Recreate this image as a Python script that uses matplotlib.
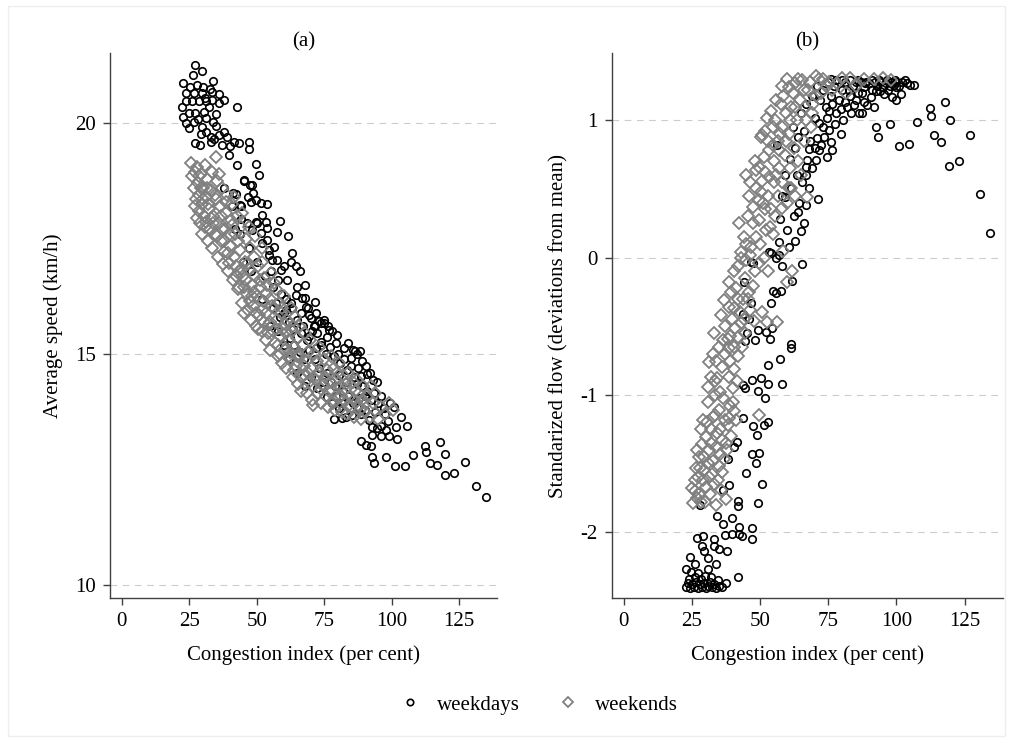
import matplotlib
matplotlib.use("Agg")
import matplotlib.pyplot as plt
from matplotlib.lines import Line2D
from matplotlib.patches import Rectangle

# ---------------- data ----------------
x_ticks = [0, 25, 50, 75, 100, 125]
x_ticklabels = ["0", "25", "50", "75", "100", "125"]
speed_ticks = [10, 15, 20]
speed_ticklabels = ["10", "15", "20"]
flow_ticks = [-2, -1, 0, 1]
flow_ticklabels = ["-2", "-1", "0", "1"]

# panel (a): (congestion index, average speed)
speed_weekdays = [
    (27.0,21.26),(29.6,21.14),(26.3,21.05),(33.9,20.91),(22.8,20.88),(25.3,20.79),(28.0,20.83),(30.2,20.78),
    (32.7,20.74),(23.7,20.66),(26.8,20.66),(29.9,20.65),(33.6,20.68),(36.0,20.63),(23.7,20.49),(26.1,20.49),
    (28.6,20.48),(31.1,20.49),(33.6,20.50),(37.9,20.50),(22.5,20.36),(36.0,20.43),(42.6,20.34),(22.8,20.14),
    (24.9,20.22),(27.1,20.22),(30.5,20.25),(31.1,20.11),(26.8,20.03),(33.8,20.03),(24.9,19.89),(29.9,19.91),
    (31.1,19.82),(33.0,19.70),(29.3,19.77),(37.9,19.82),(36.0,19.75),(34.3,19.65),(27.2,19.57),(29.0,19.53),
    (33.2,19.59),(37.3,19.52),(40.1,19.50),(43.4,19.57),(47.1,19.59),(47.1,19.44),(39.7,19.31),(42.6,19.10),
    (49.6,19.12),(51.0,18.88),(45.3,18.77),(47.5,18.66),(48.8,18.48),(46.8,18.41),(41.4,18.48),(43.8,18.22),
    (49.6,18.34),(51.5,18.27),(53.7,18.25),(52.1,18.01),(46.5,17.83),(50.3,17.83),(53.3,17.87),(58.6,17.89),
    (57.6,17.65),(61.6,17.55),(54.0,17.73),(44.1,17.92),(45.3,18.74),(48.4,18.66),(42.2,18.47),(47.8,18.30),
    (44.1,18.21),(49.6,17.87),(48.4,17.69),(51.5,17.62),(54.0,17.47),(54.6,17.26),(56.4,17.33),(52.1,17.40),
    (54.6,17.15),(57.6,17.04),(55.8,17.04),(62.6,17.00),(58.9,16.82),(61.1,16.61),(66.0,16.79),(65.0,16.46),
    (64.4,16.28),(67.8,16.21),(71.5,16.12),(62.6,16.10),(60.7,15.96),(69.4,15.85),(73.7,15.67),(71.5,15.62),
    (66.3,15.45),(69.4,15.40),(66.9,16.21),(68.1,16.03),(66.3,15.89),(70.0,15.78),(73.1,15.71),(74.9,15.67),
    (71.2,15.60),(76.8,15.53),(79.9,15.42),(76.2,15.38),(73.7,15.27),(71.9,15.13),(79.3,15.24),(82.3,15.13),
    (86.3,15.06),(88.3,15.06),(84.8,14.91),(87.5,14.70),(90.7,14.57),(94.7,14.39),(88.5,14.52),(72.2,14.26),
    (76.2,14.08),(78.0,13.94),(81.7,13.94),(80.5,13.83),(85.4,13.69),(83.0,13.65),(78.6,13.59),(81.7,13.61),
    (88.5,13.70),(91.6,13.58),(97.2,13.83),(100.9,13.85),(103.6,13.65),(101.5,13.43),(105.8,13.45),(92.8,13.43),
    (94.7,13.40),(92.8,13.25),(95.9,13.22),(99.0,13.22),(102.1,13.16),(88.5,13.11),(90.4,13.04),(92.2,13.02),
    (92.8,12.78),(93.4,12.64),(97.8,12.78),(101.2,12.57),(104.8,12.58),(108.0,12.82),(112.3,13.02),(112.9,12.89),
    (117.9,13.10),(119.7,12.84),(114.2,12.65),(116.7,12.59),(119.6,12.39),(123.1,12.42),(127.0,12.66),(131.1,12.15),
    (134.8,11.90),
    (60.0,15.90),(62.0,15.70),(63.5,15.55),(65.0,15.75),(67.0,15.60),(68.5,15.30),(70.5,15.50),(72.5,15.45),
    (74.0,15.20),(75.5,15.00),(77.0,15.15),(78.5,14.95),(80.0,15.00),(81.0,14.80),(82.5,14.90),(83.5,14.65),
    (85.0,14.75),(86.0,14.50),(87.0,14.35),(89.0,14.30),(90.0,14.10),(91.0,14.20),(92.5,14.00),(93.5,14.15),
    (95.0,13.95),(96.0,14.10),(97.5,13.70),(98.5,13.55),(99.5,13.95),(76.0,14.60),(77.5,14.40),(79.0,14.30),
    (80.5,14.55),(82.0,14.20),(84.0,14.10),(85.5,13.95),(87.0,13.85),(74.5,14.40),(73.0,14.70),(71.5,14.90),
    (69.5,15.10),(67.5,14.90),(79.5,14.10),(83.0,14.40),(88.0,14.05),(90.0,13.80),(94.0,13.75),(96.0,13.45),
    (98.0,13.35),(64.0,15.20),(66.0,15.05),(62.5,15.35),(58.5,15.80),(57.0,16.10),(59.0,16.30),(61.0,16.20),
    (63.0,16.00),(56.0,16.45),(58.0,16.60),(60.0,16.90),(63.0,17.20),(55.5,16.80),(64.5,16.90),(68.0,16.50),
    (69.0,16.00),(72.0,15.90),(75.0,15.75),(76.5,15.60),(78.0,15.50),(84.0,15.25),(85.5,15.10),(87.0,15.00),
    (89.0,14.85),(90.5,14.75),(92.0,14.60),(93.0,14.45),
    (38.0,18.60),(41.0,18.20),(44.0,17.60),(47.0,17.30),(50.0,17.00),(53.0,16.70),(56.0,16.00),(55.0,15.60),
    (58.0,15.50),(60.0,15.20),(52.0,16.20),(48.0,16.80),(45.0,17.00),(42.0,17.70),(62.0,14.90),(65.0,14.60),
    (68.0,14.30),(70.0,14.50),
    (30.8,20.55),(32.4,20.35),(35.0,20.20),(28.3,20.10),(24.0,20.00),(34.8,19.95),(39.0,19.70),(41.5,19.60),
]

speed_weekends = [
    (25.6,19.13),(26.2,18.85),(26.8,18.60),(27.0,18.95),(27.5,18.35),(27.9,19.05),(28.2,18.70),(28.5,18.10),
    (28.8,18.45),(29.0,17.85),(29.3,18.90),(29.6,18.25),(29.9,17.60),(30.2,18.60),(30.5,18.00),(30.8,19.10),
    (31.1,17.87),(31.3,18.40),(31.7,18.80),(32.0,17.45),(32.3,18.15),(32.6,17.70),(33.0,18.55),(33.3,18.95),
    (33.6,17.30),(34.0,18.00),(34.4,17.60),(34.8,19.26),(35.0,18.35),(35.3,18.75),(35.7,17.10),(36.0,17.85),
    (36.4,18.20),(36.8,17.45),(37.2,18.60),(37.6,16.95),(37.9,17.22),(38.3,17.70),(38.7,18.05),(39.0,18.45),
    (39.4,16.80),(39.7,16.97),(40.1,17.35),(40.5,17.90),(40.9,18.25),(41.2,16.60),(41.6,17.10),(42.0,17.60),
    (42.4,16.90),(42.8,18.00),(43.1,16.40),(43.4,16.46),(43.8,17.25),(44.2,17.75),(44.6,16.10),(45.0,16.70),
    (45.3,15.89),(45.7,17.00),(46.0,17.50),(46.4,16.30),(46.8,15.95),(47.2,16.85),(47.6,17.30),(48.0,15.75),
    (48.3,16.50),(48.7,16.05),(49.1,17.10),(49.5,16.70),(49.9,15.60),(50.2,16.25),(50.6,16.90),(51.0,15.85),
    (51.4,16.45),(51.8,17.00),(52.1,15.50),(52.5,16.15),(52.9,16.65),(53.3,15.30),(53.6,15.90),(54.0,16.50),
    (54.4,15.65),(54.8,16.20),(55.1,15.10),(55.5,16.75),(55.9,15.50),(56.3,16.00),(56.7,15.25),(57.1,16.40),
    (57.5,15.75),(57.9,14.95),(58.2,16.10),(58.6,15.40),(59.0,15.90),(59.4,14.80),(59.8,15.55),(60.2,16.25),
    (60.6,15.10),(61.0,14.70),(61.4,15.75),(61.8,15.30),(62.2,14.90),(62.6,16.00),(63.0,15.50),(63.4,14.50),
    (63.8,15.15),(64.2,15.80),(64.6,14.75),(65.0,15.35),(65.4,14.35),(65.8,15.60),(66.2,14.95),(66.6,14.20),
    (67.0,15.20),(67.4,14.55),(67.8,15.45),(68.2,14.85),(68.6,14.15),(69.0,15.05),(69.4,14.40),(69.8,15.30),
    (70.2,14.70),(70.6,14.00),(71.0,13.90),(71.4,15.00),(71.8,14.45),(72.2,14.85),(72.6,14.15),(73.0,15.15),
    (73.5,14.60),(74.0,13.95),(74.5,14.35),(75.0,14.90),(75.5,14.10),(76.0,14.65),(76.5,13.85),(77.0,14.40),
    (77.5,14.95),(78.0,14.20),(78.5,14.70),(79.0,13.80),(79.5,14.45),(80.0,14.05),(80.5,14.80),(81.0,14.30),
    (81.5,13.75),(82.0,14.55),(82.5,14.00),(83.0,14.35),(83.5,13.70),(84.0,14.60),(84.5,14.10),(85.0,13.85),
    (85.5,14.40),(86.0,13.65),(86.5,14.20),(87.0,14.45),(87.5,13.90),(88.0,14.15),(88.5,13.60),(89.0,14.00),
    (89.5,14.30),(90.0,13.75),(91.0,14.10),(92.0,13.65),(93.0,13.95),(94.0,14.15),(95.0,13.60),(96.0,13.85),
    (97.5,13.70),(100.4,13.80),(99.0,13.95),
    (28.5,18.85),(30.0,18.35),(31.5,18.60),(33.0,17.95),(34.5,18.45),(36.0,18.90),(37.0,17.70),(38.5,18.30),
    (40.0,17.60),(41.5,18.40),(43.0,17.45),(44.5,16.85),(46.0,16.60),(47.5,16.15),(49.0,16.35),(50.5,15.55),
    (52.0,15.95),(53.5,16.30),(55.0,15.70),(56.5,16.55),(58.0,15.20),(59.5,16.00),(61.0,15.45),(62.5,15.05),
    (64.0,14.65),(65.5,15.00),(44.5,18.05),(47.0,17.75),(49.5,17.55),(52.0,17.30),
    (27.2,18.20),(28.0,17.95),(29.5,18.60),(30.8,17.75),(32.0,18.25),(33.8,17.85),(35.5,17.55),(36.8,18.00),
    (38.0,17.45),(39.5,17.20),(41.0,17.80),(42.2,16.70),(43.6,16.80),(45.2,16.45),(46.6,16.95),(48.2,16.25),
    (49.6,15.90),(51.2,16.60),(52.7,15.70),(54.2,15.45),(55.7,16.05),(57.2,15.55),(58.8,15.00),(60.4,15.65),
    (61.9,14.95),(63.3,15.60),(64.8,14.95),(66.3,14.50),(67.7,14.75),(69.2,14.60),(70.8,14.30),(72.3,14.55),
    (73.8,14.25),(75.3,14.50),(76.8,14.20),(78.3,13.95),(79.8,14.60),(81.3,14.10),(82.8,14.25),(84.3,13.90),
    (86.2,14.00),(88.2,13.80),(90.5,13.95),(92.5,14.30),
]

# panel (b): (congestion index, standardized flow)
flow_weekdays = [
    (22.7,-2.40),(23.5,-2.37),(24.2,-2.41),(25.0,-2.38),(25.8,-2.40),(26.5,-2.36),(27.2,-2.41),(28.0,-2.38),
    (28.8,-2.40),(29.5,-2.37),(30.3,-2.41),(31.0,-2.39),(31.8,-2.36),(32.5,-2.40),(33.3,-2.38),(34.0,-2.41),
    (35.0,-2.39),(36.2,-2.40),(37.6,-2.37),(24.0,-2.34),(26.0,-2.33),(28.5,-2.34),(30.0,-2.32),(32.0,-2.33),
    (34.5,-2.35),(42.0,-2.33),(22.7,-2.27),(24.7,-2.29),(27.2,-2.30),(30.8,-2.27),(33.9,-2.23),(26.3,-2.23),
    (24.5,-2.18),(30.8,-2.19),(29.6,-2.14),(28.8,-2.10),(33.3,-2.10),(35.1,-2.12),(37.8,-2.14),(26.8,-2.04),
    (29.0,-2.03),(33.0,-2.05),(37.3,-2.02),(39.7,-2.01),(42.4,-2.01),(43.4,-2.03),(47.0,-2.05),(47.0,-1.97),
    (42.4,-1.96),(39.7,-1.90),(36.5,-1.94),(34.2,-1.88),(42.1,-1.77),(42.1,-1.81),(49.1,-1.79),(36.3,-1.69),
    (38.5,-1.66),(28.0,-1.80),(50.7,-1.65),(44.8,-1.57),(48.5,-1.50),(47.0,-1.43),(49.5,-1.42),(38.1,-1.47),
    (41.4,-1.34),(40.6,-1.38),(48.9,-1.29),(47.5,-1.23),(51.3,-1.22),(53.1,-1.20),(43.6,-1.17),(51.9,-1.02),
    (49.1,-0.97),(50.3,-0.88),(47.0,-0.89),(44.6,-0.95),(43.8,-0.93),(53.1,-0.92),(58.2,-0.92),(53.0,-0.78),
    (57.4,-0.74),(61.3,-0.63),(61.4,-0.66),(53.7,-0.59),(52.2,-0.54),(48.2,-0.60),(45.2,-0.55),(44.6,-0.61),
    (54.3,-0.51),(49.1,-0.53),(45.8,-0.45),(43.6,-0.41),(46.7,-0.33),(54.2,-0.33),(54.6,-0.24),(57.6,-0.24),
    (56.0,-0.26),(44.2,-0.18),(61.9,-0.17),(65.5,-0.05),(58.2,-0.06),(55.8,0.00),(57.0,0.02),(54.0,0.03),
    (47.3,-0.04),(46.7,-0.03),(53.4,0.04),(57.0,0.11),(60.7,0.08),(64.9,0.19),(57.3,0.28),(64.1,0.33),
    (67.0,0.38),(64.3,0.40),(71.3,0.43),(58.0,0.45),(59.2,0.44),(61.3,0.51),(68.0,0.51),(63.7,0.60),
    (67.0,0.60),(66.8,0.66),(67.4,0.71),(70.4,0.71),(74.7,0.73),(71.6,0.78),(68.0,0.79),(75.9,0.84),
    (71.0,0.87),(79.6,0.90),(75.3,0.93),(71.6,0.98),(75.3,1.07),(56.4,0.82),
    (65.0,1.05),(67.0,1.12),(69.0,1.18),(70.0,1.02),(72.0,1.15),(73.0,1.22),(74.0,1.10),(76.0,1.18),
    (77.0,1.25),(78.0,1.05),(79.0,1.15),(80.0,1.22),(81.0,1.28),(82.0,1.10),(83.0,1.18),(84.0,1.25),
    (85.0,1.28),(86.0,1.20),(87.0,1.28),(88.0,1.24),(89.0,1.28),(90.0,1.27),(91.0,1.22),(92.0,1.28),
    (93.0,1.25),(94.0,1.28),(95.0,1.24),(96.0,1.27),(97.0,1.22),(98.0,1.28),(99.0,1.26),(100.0,1.28),
    (101.0,1.25),(102.0,1.28),(103.3,1.29),(105.0,1.26),(106.5,1.26),(99.7,1.24),(101.5,1.19),(99.7,1.15),
    (98.2,1.17),(95.4,1.19),(92.4,1.21),(88.1,1.13),(91.7,1.10),(89.3,1.11),(86.3,1.05),(84.4,1.11),
    (85.0,1.15),(87.5,1.05),(80.5,1.00),(77.5,0.97),(73.0,0.95),(117.7,1.13),(112.2,1.09),(112.7,1.03),
    (119.6,1.00),(107.7,0.99),(97.6,0.97),(92.5,0.95),(93.1,0.88),(113.9,0.89),(116.3,0.84),(126.8,0.89),
    (101.0,0.81),(104.6,0.83),(119.3,0.67),(123.1,0.70),(130.7,0.46),(134.4,0.18),(75.0,1.28),(78.0,1.29),
    (71.0,1.25),(62.0,0.95),(64.0,0.88),(66.0,0.92),(68.5,0.85),(70.0,0.80),(72.5,0.82),(73.5,0.88),
    (76.5,0.78),(69.0,0.65),(65.5,0.55),(62.5,0.30),(60.0,0.20),(66.0,0.25),(63.0,0.12),(59.0,0.60),
    (61.0,0.72),(63.0,0.80),
    (76.0,1.30),(80.0,1.29),(83.0,1.29),(86.0,1.29),(88.5,1.27),(91.0,1.29),(93.5,1.29),(96.5,1.29),
    (99.5,1.29),(104.0,1.27),(82.5,1.22),(87.5,1.20),(90.5,1.17),(94.0,1.21),(97.5,1.25),(79.5,1.08),
    (81.0,1.13),(83.5,1.05),(76.5,1.12),(74.5,1.02),
]

flow_weekends = [
    (25.6,-1.79),(26.2,-1.70),(26.6,-1.53),(27.3,-1.60),(27.8,-1.72),(28.0,-1.53),(28.6,-1.36),(29.0,-1.62),
    (29.6,-1.45),(30.2,-1.67),(30.2,-1.31),(30.8,-1.50),(31.4,-1.40),(31.9,-1.25),(32.4,-1.58),(33.3,-1.65),
    (33.9,-1.80),(33.9,-1.38),(34.3,-1.28),(34.8,-1.52),(35.7,-1.69),(35.3,-1.43),(36.2,-1.33),(36.7,-1.47),
    (37.5,-1.76),(37.5,-1.35),(38.2,-1.22),(38.7,-1.17),(39.4,-1.30),(40.0,-1.05),(40.5,-1.12),(41.2,-1.18),
    (29.0,-1.18),(32.6,-1.16),(35.1,-1.11),(31.0,-1.05),(33.5,-1.00),(36.5,-1.02),(27.5,-1.45),(26.0,-1.62),
    (28.5,-1.78),(31.5,-1.72),
    (30.8,-0.94),(32.0,-0.87),(33.5,-0.90),(35.3,-0.98),(38.7,-0.87),(40.6,-0.81),(41.5,-0.90),(31.4,-0.76),
    (32.6,-0.70),(35.1,-0.65),(38.1,-0.59),(39.0,-0.57),(33.3,-0.55),(38.7,-0.66),(40.6,-0.65),(42.0,-0.72),
    (40.9,-0.51),(43.0,-0.48),(44.5,-0.55),(43.5,-0.65),(35.7,-0.42),(38.7,-0.36),(36.9,-0.31),(40.6,-0.37),
    (42.5,-0.40),(44.0,-0.45),(47.9,-0.46),(50.9,-0.40),(52.7,-0.47),(56.4,-0.47),(36.0,-0.80),(34.0,-0.75),
    (37.0,-0.50),(39.5,-0.25),(42.0,-0.30),(45.5,-0.30),(49.7,-1.15),
    (47.3,-0.21),(44.5,-0.15),(46.0,-0.25),(38.7,-0.18),(40.6,-0.10),(41.8,-0.06),(43.0,0.00),(44.8,-0.02),
    (46.5,0.02),(49.7,-0.04),(48.0,-0.10),(61.9,-0.10),(60.0,-0.18),(42.4,0.25),(43.0,0.04),(46.7,0.08),
    (48.5,0.15),(52.2,0.20),(53.5,0.22),(49.7,0.27),(47.3,0.37),(49.7,0.42),(51.0,0.40),(48.5,0.51),
    (50.9,0.56),(53.4,0.59),(55.0,0.55),(44.8,0.60),(54.6,0.17),(58.0,0.36),(61.3,0.51),(45.5,0.30),
    (44.0,0.15),(46.0,0.45),(52.0,0.35),(55.5,0.30),(56.5,0.45),(50.0,0.10),(51.5,0.00),(53.0,-0.10),
    (58.5,0.05),(57.0,0.65),(59.0,0.75),(46.5,0.55),(48.0,0.70),
    (49.7,0.66),(51.5,0.73),(53.4,0.78),(50.3,0.88),(52.0,0.92),(54.6,0.95),(54.0,1.07),(55.5,1.00),
    (57.6,1.12),(60.7,1.24),(62.0,1.20),(58.5,1.18),(56.5,0.85),(58.0,0.95),(59.5,1.05),(60.5,0.90),
    (61.5,1.10),(63.0,1.27),(63.5,1.00),(64.5,1.15),(65.5,1.29),(66.5,1.10),(67.5,1.22),(68.6,0.95),
    (68.5,1.28),(70.4,1.32),(69.5,1.12),(71.5,1.30),(55.0,0.70),(53.0,0.85),(57.0,0.78),(48.5,0.64),
    (50.9,0.89),(52.5,1.02),(56.0,1.15),(58.0,1.25),(60.0,1.30),(62.5,0.80),(64.0,0.70),(67.4,0.44),
    (65.0,0.60),(60.7,0.51),(63.0,0.45),(66.0,0.85),(61.0,0.65),
    (75.3,1.28),(78.3,1.27),(83.0,1.31),(85.0,1.25),(88.0,1.30),(91.7,1.30),(95.0,1.31),(98.0,1.29),
    (73.0,1.30),(80.0,1.31),(76.5,1.22),(81.5,1.20),
    (25.0,-1.68),(26.8,-1.75),(27.0,-1.40),(28.2,-1.25),(29.3,-1.55),(30.0,-1.78),(30.5,-1.20),(31.2,-1.60),
    (32.0,-1.35),(32.8,-1.48),(33.6,-1.15),(34.5,-1.62),(35.5,-1.25),(36.0,-1.56),(37.0,-1.18),(38.0,-1.40),
    (39.0,-1.08),(40.2,-0.95),(39.0,-0.75),(37.2,-0.70),(34.2,-0.88),(36.5,-0.60),(41.8,-0.58),(43.8,-0.30),
    (46.2,-0.38),(39.8,-0.45),(41.2,-0.22),(45.0,0.10),(47.5,0.25),(50.5,0.48),(52.8,0.45),(54.2,0.35),
    (56.0,0.60),(58.2,0.55),(60.0,0.40),(51.8,0.62),(54.8,0.82),(57.5,0.90),(59.5,0.85),(61.0,1.00),
    (62.8,1.10),(66.0,1.22),(64.0,1.30),(67.0,1.00),(69.0,1.05),(70.5,1.18),(72.5,1.20),(74.5,1.25),
]

title_a = "(a)"
title_b = "(b)"
xlabel = "Congestion index (per cent)"
ylabel_a = "Average speed (km/h)"
ylabel_b = "Standarized flow (deviations from mean)"
legend_labels = ["weekdays", "weekends"]

# ---------------- styling ----------------
plt.rcParams['font.family'] = ['Liberation Serif', 'DejaVu Serif']
FS = 15
GRAY = '#808080'
SPINE = '#404040'
CIRC_MS = 5.4
DIAM_MS = 6.2

fig = plt.figure(figsize=(10.13, 7.42), dpi=100)
fig.patch.set_facecolor('white')
fig.patches.append(Rectangle((0.008, 0.008), 0.984, 0.984, transform=fig.transFigure,
                             fill=False, edgecolor='#eeeeee', lw=1.0))

ax_a = fig.add_axes([0.1086, 0.194, 0.382, 0.7346])
ax_b = fig.add_axes([0.604, 0.194, 0.386, 0.7346])


def draw(ax, wd, we, yt, ytl, ylim, title, ylabel):
    xs, ys = zip(*wd)
    ax.plot(xs, ys, linestyle='none', marker='o', markersize=CIRC_MS, markerfacecolor='none',
            markeredgecolor='black', markeredgewidth=1.2, zorder=3)
    xs, ys = zip(*we)
    ax.plot(xs, ys, linestyle='none', marker='D', markersize=DIAM_MS, markerfacecolor='none',
            markeredgecolor=GRAY, markeredgewidth=1.3, zorder=4)
    ax.set_xlim(-4.3, 139)
    ax.set_ylim(*ylim)
    ax.set_xticks(x_ticks)
    ax.set_xticklabels(x_ticklabels)
    ax.set_yticks(yt)
    ax.set_yticklabels(ytl)
    for v in yt:
        ax.axhline(v, color='#cccccc', lw=0.8, ls=(0, (6, 5)), zorder=1)
    for s in ['top', 'right']:
        ax.spines[s].set_visible(False)
    for s in ['left', 'bottom']:
        ax.spines[s].set_color(SPINE)
        ax.spines[s].set_linewidth(1.0)
    ax.tick_params(axis='both', labelsize=FS, length=5, width=1.0, color=SPINE, pad=5)
    ax.set_title(title, fontsize=FS, pad=5)
    ax.set_xlabel(xlabel, fontsize=FS, labelpad=10)
    ax.set_ylabel(ylabel, fontsize=FS, labelpad=9)


draw(ax_a, speed_weekdays, speed_weekends, speed_ticks, speed_ticklabels, (9.72, 21.52),
     title_a, ylabel_a)
draw(ax_b, flow_weekdays, flow_weekends, flow_ticks, flow_ticklabels, (-2.48, 1.49),
     title_b, ylabel_b)

handles = [
    Line2D([], [], linestyle='none', marker='o', markersize=4.6, markerfacecolor='none',
           markeredgecolor='black', markeredgewidth=1.2),
    Line2D([], [], linestyle='none', marker='D', markersize=5.2, markerfacecolor='none',
           markeredgecolor=GRAY, markeredgewidth=1.3),
]
fig.legend(handles, legend_labels, loc='center', bbox_to_anchor=(0.532, 0.050), ncol=2,
           frameon=False, fontsize=FS, handletextpad=0.8, columnspacing=1.8, handlelength=1.0)

fig.savefig('out.png', dpi=100, facecolor='white')
